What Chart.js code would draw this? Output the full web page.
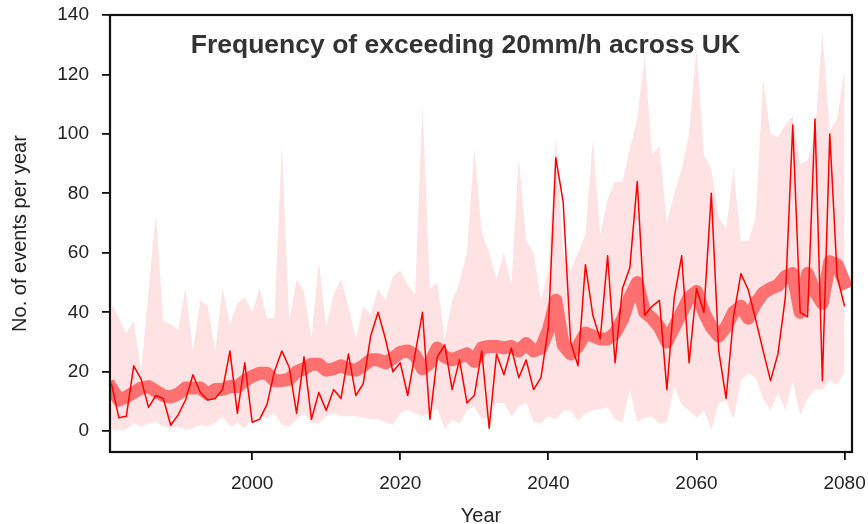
<!DOCTYPE html>
<html>
<head>
<meta charset="utf-8">
<script src="https://cdn.jsdelivr.net/npm/chart.js@4.4.1/dist/chart.umd.min.js"></script>
<style>
  html, body { margin: 0; padding: 0; background: #ffffff; }
  #wrap { width: 868px; height: 524px; position: relative; }
</style>
</head>
<body>
<div id="wrap"><canvas id="c"></canvas></div>
<script>
// ---- Data ----
const chartTitle = 'Frequency of exceeding 20mm/h across UK';
const xAxisTitle = 'Year';
const yAxisTitle = 'No. of events per year';

const years = [
  1981,1982,1983,1984,1985,1986,1987,1988,1989,1990,
  1991,1992,1993,1994,1995,1996,1997,1998,1999,2000,
  2001,2002,2003,2004,2005,2006,2007,2008,2009,2010,
  2011,2012,2013,2014,2015,2016,2017,2018,2019,2020,
  2021,2022,2023,2024,2025,2026,2027,2028,2029,2030,
  2031,2032,2033,2034,2035,2036,2037,2038,2039,2040,
  2041,2042,2043,2044,2045,2046,2047,2048,2049,2050,
  2051,2052,2053,2054,2055,2056,2057,2058,2059,2060,
  2061,2062,2063,2064,2065,2066,2067,2068,2069,2070,
  2071,2072,2073,2074,2075,2076,2077,2078,2079,2080
];

// single member (thin red line)
const memberValues = [
  16,4.5,5,22,17.5,8,12,11,2,5.5,
  10.5,19,13,10.5,11,14,27,6,23,3,
  4,9,20,27,21.5,6,25,4,13,7,
  14,11,26,12,16,32,40,31,20,23,
  12,26,40,4,25,29,14,24,9.5,12,
  27,1,26,19,28,18,24,14,18,35,
  92,77,30,22,56,39,31,59,23,48,
  55,84,39,42,44,14,45,59,23,48,
  40,80,27,11,38.5,53,47.5,37.5,27,17,
  26,45,103,40,38.5,105,17,100,52,42
];

// ensemble mean (thick line)
const meanValues = [
  14.5,10.5,11.5,13,14.5,15,13.5,12,11.5,12.5,
  14.5,14.5,14.5,12.5,14,14,15,15,17,18.5,
  19.5,19.5,17,17,17.5,20,21,22.5,22.5,20.5,
  21,22,21,20.5,22,24,24,23,24.5,26.5,
  27,25.5,21,23,28,25,24,25,26,23.5,
  28,28.5,28.5,28,28.5,27,29.5,27,28,34,
  44,29,26,28.5,33,32,31,31,33,37.5,
  45,50,40,38,35,30,35,40,45,47,
  40,35,32,35,40,42,38,43,46.5,48,
  49,52,53,40,53,47,43,57,56,50
];

// ensemble range (shaded band)
const upperValues = [
  43,38,33,37,20,47,73,37,36,34,
  48,27,44,42,27,48,36,43,45,40,
  48,38,38,96,37,51,47,31,57,35,
  46,51,42,31,42,39,48,44,52,54,
  49,46,110,48,50,31,44,50,60,95,
  67,60,51,60,49,92,64,60,44,54,
  99,60,54,60,66,98,66,78,84,84,
  95,105,126,93,96,70,80,88,100,129,
  93,88,72,68,88,64,64,72,118,100,
  99,103,106,90,91,100,134,101,105,122
];
const lowerValues = [
  0.5,0.5,0.5,2.7,1.6,2.5,3.2,1.6,1,1.6,
  0.5,1,2.2,1.6,2.7,5,1.6,2.7,1,3.9,
  5,4.5,6.1,2.2,1.6,3.9,6.1,2.7,2.7,5,
  6.1,5,5,5,4.5,4,3.9,3,2.2,6.1,
  7.2,6,5,6,7.8,0.5,3.9,2.5,7,8.3,
  3.9,5,9.5,9.5,5,8.3,9.5,3.3,2.7,5,
  3.9,7,7,3.5,6,7,7.5,8,4,3,
  14,3,4.5,5,2.5,3,15,9,7,4.5,
  7,0.5,9.5,10.5,4,17,19.5,18,11,7,
  12.8,7.2,16.8,5.5,11,14,14,17,15.6,20
];

const xTickValues = [2000, 2020, 2040, 2060, 2080];
const yTickValues = [0, 20, 40, 60, 80, 100, 120, 140];

// ---- Build chart ----
const pts = vals => years.map((yr, i) => ({ x: yr, y: vals[i] }));

const frameAndTitle = {
  id: 'frameAndTitle',
  afterDatasetsDraw(chart) {
    const { ctx, chartArea: a } = chart;
    ctx.save();
    ctx.fillStyle = '#333333';
    ctx.font = 'bold 26.5px "Liberation Sans", Arial, sans-serif';
    ctx.textAlign = 'center';
    ctx.textBaseline = 'middle';
    ctx.fillText(chartTitle, a.left + (a.right - a.left) * 0.479, a.top + 31);
    ctx.restore();
  },
  afterDraw(chart) {
    const { ctx, chartArea: a } = chart;
    ctx.save();
    ctx.strokeStyle = '#111111';
    ctx.lineWidth = 2.2;
    ctx.strokeRect(a.left, a.top, a.right - a.left, a.bottom - a.top);
    ctx.restore();
  }
};

const tickFont = { family: '"Liberation Sans", Arial, sans-serif', size: 19 };
const axisTitleFont = { family: '"Liberation Sans", Arial, sans-serif', size: 20 };

new Chart(document.getElementById('c'), {
  type: 'line',
  data: {
    datasets: [
      {
        label: 'upper',
        data: pts(upperValues),
        borderWidth: 0,
        borderColor: 'rgba(0,0,0,0)',
        backgroundColor: '#ffe2e3',
        pointRadius: 0,
        fill: '+1',
        tension: 0,
        order: 3
      },
      {
        label: 'lower',
        data: pts(lowerValues),
        borderWidth: 0,
        borderColor: 'rgba(0,0,0,0)',
        backgroundColor: '#ffe2e3',
        pointRadius: 0,
        fill: false,
        tension: 0,
        order: 3
      },
      {
        label: 'mean',
        data: pts(meanValues),
        borderColor: '#ff7171',
        borderWidth: 13,
        borderJoinStyle: 'round',
        borderCapStyle: 'square',
        pointRadius: 0,
        fill: false,
        tension: 0,
        order: 2
      },
      {
        label: 'member',
        data: pts(memberValues),
        borderColor: '#ff0000',
        borderWidth: 1.5,
        borderJoinStyle: 'round',
        pointRadius: 0,
        fill: false,
        tension: 0,
        order: 1
      }
    ]
  },
  options: {
    responsive: true,
    maintainAspectRatio: false,
    animation: false,
    devicePixelRatio: 1,
    layout: { padding: { top: 15, right: 16, left: 0, bottom: 0 } },
    plugins: {
      legend: { display: false },
      tooltip: { enabled: false },
      title: { display: false }
    },
    scales: {
      x: {
        type: 'linear',
        min: 1980.8,
        max: 2081,
        afterFit(scale) { scale.height = 72; scale.paddingLeft = 0; scale.paddingRight = 0; },
        afterBuildTicks(scale) { scale.ticks = xTickValues.map(v => ({ value: v })); },
        border: { display: false },
        grid: { display: true, drawOnChartArea: false, drawTicks: true, tickLength: 8, color: '#111111', lineWidth: 1.8 },
        ticks: { color: '#222222', font: tickFont, padding: 12, maxRotation: 0, callback: v => String(v) },
        title: { display: true, text: xAxisTitle, color: '#222222', font: axisTitleFont, padding: { top: 0, bottom: -4 } }
      },
      y: {
        type: 'linear',
        min: -7,
        max: 140,
        afterFit(scale) { scale.width = 110; scale.paddingTop = 0; scale.paddingBottom = 0; },
        afterBuildTicks(scale) { scale.ticks = yTickValues.map(v => ({ value: v })); },
        border: { display: false },
        grid: { display: true, drawOnChartArea: false, drawTicks: true, tickLength: 8, color: '#111111', lineWidth: 1.8 },
        ticks: { color: '#222222', font: tickFont, padding: 13, callback: v => String(v) },
        title: { display: true, text: yAxisTitle, color: '#222222', font: axisTitleFont, padding: { top: 8, bottom: 0 } }
      }
    }
  },
  plugins: [frameAndTitle]
});
</script>
</body>
</html>
